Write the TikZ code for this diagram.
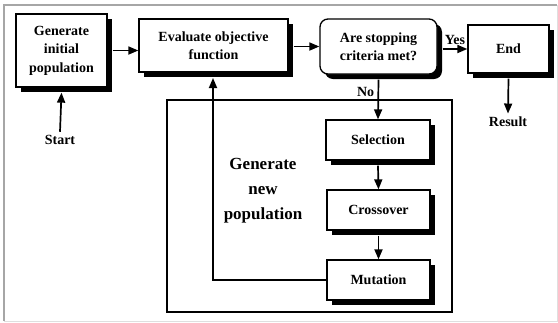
\documentclass[tikz,border=0pt]{standalone}
\usepackage{fontspec}
\setmainfont{Liberation Serif}
\usetikzlibrary{arrows.meta,shadows}
\begin{document}
\begin{tikzpicture}[x=1pt, y=-1pt, >={Triangle[length=10pt,width=8pt]},
  font=\fontsize{14}{18.5}\selectfont\bfseries,
  box/.style={draw, line width=1.3pt, fill=white, align=center,
    drop shadow={shadow xshift=5pt, shadow yshift=-5pt, fill=black, opacity=1}},
  flow/.style={->, line width=1.7pt}]
\useasboundingbox (0,0) rectangle (558,322);
\draw[gray!70, line width=1.5pt] (4,321) -- (4,5) -- (557,5);
\draw[gray!25, line width=1pt] (4,321) -- (557,321) -- (557,5);

\draw[line width=1.3pt] (167,100) rectangle (452,312);

\node[box, minimum width=91pt, minimum height=73pt] (init) at (61.5,50.5) {Generate\\initial\\population};
\node[box, minimum width=149pt, minimum height=53pt] (eval) at (213.5,45.5) {Evaluate objective\\function};
\node[box, rounded corners=8pt, minimum width=117pt, minimum height=55pt] (stop) at (378.5,46.5) {Are stopping\\criteria met?};
\node[box, minimum width=81pt, minimum height=48pt] (endn) at (508.5,49) {End};

\node[box, minimum width=104pt, minimum height=40pt] (sel) at (378,140) {Selection};
\node[box, minimum width=103pt, minimum height=40pt] (cross) at (378.5,210) {Crossover};
\node[box, minimum width=103pt, minimum height=40pt] (mut) at (378.5,280) {Mutation};

\node[align=center, font=\fontsize{17}{25}\selectfont\bfseries] (genpop) at (263,191) {Generate\\new\\population};
\node (start) at (60,140) {Start};
\node (result) at (508,122) {Result};
\coordinate (fb) at (213,78);

\draw[flow] (start.north) -- ([yshift=-5pt]init.south);
\draw[flow] ([xshift=5pt]init.east) -- (eval.west |- init.east);
\draw[flow] ([xshift=5pt]eval.east |- stop.west) -- (stop.west);
\draw[flow] ([xshift=5pt]stop.east |- endn.west) -- node[above] {Yes} (endn.west);
\draw[flow] ([yshift=-5pt]endn.south) -- (result.north);
\draw[flow] ([yshift=-5pt]stop.south) -- node[left, pos=0.3] {No} (sel.north);
\draw[flow] ([yshift=-5pt]sel.south) -- (cross.north);
\draw[flow] ([yshift=-5pt]cross.south) -- (mut.north);
\draw[flow] (mut.west) -| (fb);
\end{tikzpicture}
\end{document}
